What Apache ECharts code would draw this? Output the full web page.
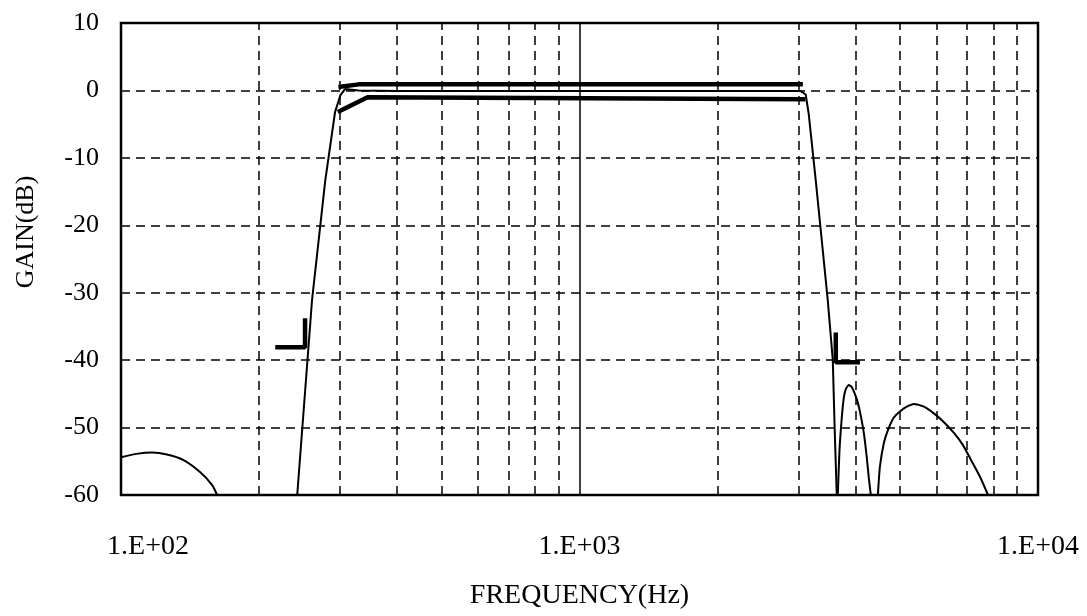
<!DOCTYPE html>
<html>
<head>
<meta charset="utf-8">
<script src="https://cdn.jsdelivr.net/npm/echarts@6/dist/echarts.min.js"></script>
<style>
  html, body { margin: 0; padding: 0; background: #fff; }
  #chart { width: 1087px; height: 616px; }
</style>
</head>
<body>
<div id="chart"></div>
<script>
// ticks
var xTickValues = [100, 1000, 10000];
var xTickLabels = ['1.E+02', '1.E+03', '1.E+04'];
// dashed vertical grid inside each decade
var minorFreqs = [200, 300, 400, 500, 600, 700, 800, 900,
                  2000, 3000, 4000, 5000, 6000, 7000, 8000, 9000];

// filter response, [freq Hz, gain dB]
var lobeLeft = [[100, -54.4], [108, -53.9], [116.9, -53.7], [126, -54.0], [136.6, -54.8],
                [148.7, -56.6], [157.9, -58.5], [162, -60]];
var passResp = [[242.3, -60], [261, -31.1], [279, -13.3], [293, -3.2], [301, -0.7], [308, 0.2],
                [330, 0.0], [400, -0.1], [1000, -0.1], [2000, -0.1], [3037, -0.1], [3114, -0.6],
                [3162, -3.5], [3275, -13.3], [3479, -31.1], [3568, -40], [3604, -50.8], [3640, -60]];
var lobeRight1 = [[3659, -60], [3677, -56], [3696, -52.5], [3733, -48.5], [3771, -45.6],
                  [3809, -44.3], [3867, -43.7], [3926, -44.0], [3986, -45.0], [4046, -46.3],
                  [4108, -48.3], [4170, -50.8], [4233, -54.5], [4276, -57.5], [4319, -60]];
var lobeRight2 = [[4475, -60], [4519, -55.9], [4611, -52.3], [4704, -50.4], [4848, -48.5],
                  [5022, -47.5], [5176, -46.9], [5362, -46.5], [5639, -46.9], [5929, -47.9],
                  [6235, -49.2], [6556, -50.8], [6860, -52.6], [7142, -54.8], [7473, -57.3],
                  [7779, -60]];

// spec masks
var maskUpper = [[298, 0.5], [330, 0.9], [3070, 0.9]];
var maskLower = [[297, -3.2], [345, -1.0], [3110, -1.3]];
var stopLeft = [[217, -38.1], [252, -38.1], [252, -33.8]];
var stopRight = [[3622, -35.9], [3622, -40.3], [4090, -40.3]];

var FONT = 'Liberation Serif, DejaVu Serif, serif';

var chart = echarts.init(document.getElementById('chart'));

function thin(data, smooth) {
  return {
    type: 'line', data: data, showSymbol: false, smooth: smooth || false,
    lineStyle: { color: '#000', width: 2 }, z: 3, silent: true
  };
}
function thick(data) {
  return {
    type: 'line', data: data, showSymbol: false,
    lineStyle: { color: '#000', width: 4.5 }, z: 4, silent: true
  };
}

var series = [
  thin(lobeLeft, 0.3),
  thin(passResp),
  thin(lobeRight1, 0.2),
  thin(lobeRight2, 0.2),
  thick(maskUpper),
  thick(maskLower),
  thick(stopLeft),
  thick(stopRight)
];
series[1].markLine = {
  silent: true,
  symbol: ['none', 'none'],
  label: { show: false },
  lineStyle: { color: '#000', width: 1.5, type: [9, 6] },
  data: minorFreqs.map(function (f) { return { xAxis: f }; })
};

var option = {
  animation: false,
  grid: {
    left: 121, right: 49, top: 23, bottom: 121,
    show: true, borderColor: '#000', borderWidth: 2.5,
    outerBoundsMode: 'none'
  },
  xAxis: {
    type: 'log', logBase: 10, min: 100, max: 10000,
    axisLine: { show: false }, axisTick: { show: false },
    splitLine: { show: true, lineStyle: { color: '#000', width: 1.5, type: 'solid' } },
    axisLabel: {
      margin: 38, color: '#000', fontFamily: FONT, fontSize: 28,
      formatter: function (v) {
        var i = xTickValues.indexOf(Math.round(v));
        if (i === 0) return '{first|' + xTickLabels[0] + '}';
        return i >= 0 ? xTickLabels[i] : '';
      },
      rich: { first: { padding: [0, 0, 0, 54], fontFamily: FONT, fontSize: 28, color: '#000' } }
    },
    name: 'FREQUENCY(Hz)', nameLocation: 'middle', nameGap: 87,
    nameTextStyle: { color: '#000', fontFamily: FONT, fontSize: 28 }
  },
  yAxis: {
    type: 'value', min: -60, max: 10, interval: 10,
    axisLine: { show: false }, axisTick: { show: false },
    splitLine: { show: true, lineStyle: { color: '#000', width: 1.5, type: [9, 6] } },
    axisLabel: { margin: 22, color: '#000', fontFamily: FONT, fontSize: 26 },
    name: 'GAIN(dB)', nameLocation: 'middle', nameGap: 82,
    nameTextStyle: { color: '#000', fontFamily: FONT, fontSize: 26, padding: [0, 0, 0, 54] }
  },
  series: series
};

chart.setOption(option);
</script>
</body>
</html>
